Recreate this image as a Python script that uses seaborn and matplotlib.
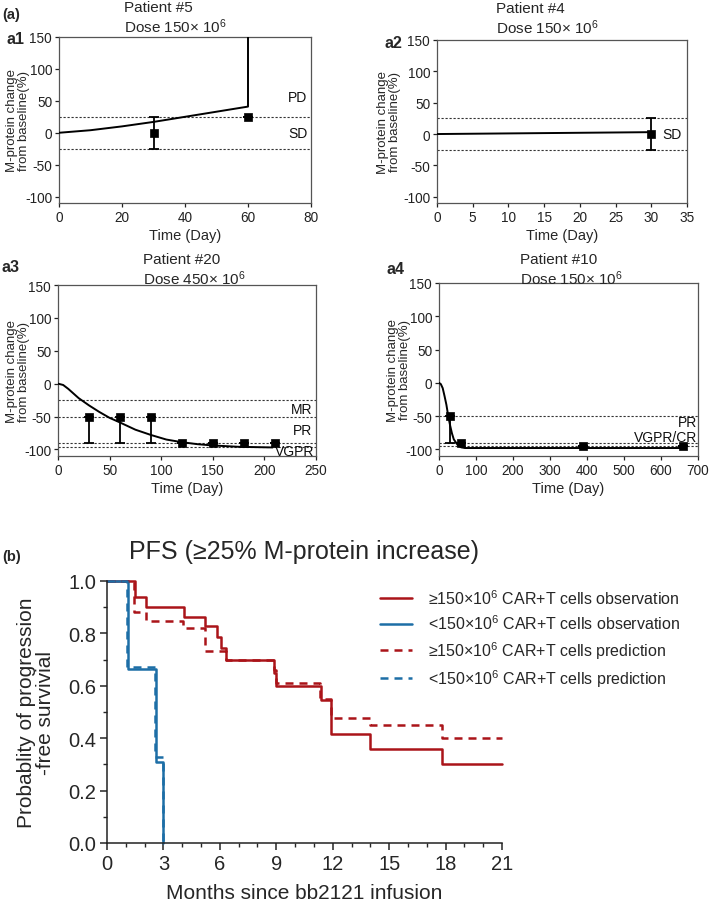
import numpy as np
import pandas as pd
import matplotlib
matplotlib.use("Agg")
import matplotlib.pyplot as plt
import seaborn as sns
from matplotlib.ticker import MultipleLocator, FormatStrFormatter

# ---------------- data ----------------
# a1: Patient #5, dose 150x10^6
a1_curve_t = [0, 10, 20, 30, 40, 50, 60, 60]
a1_curve_y = [0, 4, 10, 17, 25, 33, 41, 200]
a1_obs_t = [30, 60]
a1_obs_y = [0, 25]
a1_err_lo = [25, 0]
a1_err_hi = [25, 0]
a1_refs = [25, -25]

# a2: Patient #4, dose 150x10^6
a2_curve_t = [0, 10, 20, 30]
a2_curve_y = [0, 1, 2, 3]
a2_obs_t = [30]
a2_obs_y = [0]
a2_err_lo = [25]
a2_err_hi = [25]
a2_refs = [25, -25]

# a3: Patient #20, dose 450x10^6
a3_curve_t = [0, 5, 10, 20, 30, 40, 50, 60, 75, 90, 105, 120, 135, 150, 175, 208]
a3_curve_y = [0, -2, -8, -22, -33, -43, -52, -59, -70, -78, -85, -89, -92, -94, -96, -97]
a3_obs_t = [30, 60, 90, 120, 150, 180, 210]
a3_obs_y = [-50, -50, -50, -90, -90, -90, -90]
a3_err_lo = [40, 40, 40, 0, 0, 0, 0]
a3_err_hi = [0, 0, 0, 0, 0, 0, 0]
a3_refs = [-25, -50, -90, -96]

# a4: Patient #10, dose 150x10^6
a4_curve_t = [0, 5, 10, 15, 20, 25, 30, 35, 40, 50, 60, 70, 80, 660]
a4_curve_y = [0, -2, -8, -20, -33, -50, -64, -76, -85, -93, -97, -98, -98, -98]
a4_obs_t = [30, 60, 390, 660]
a4_obs_y = [-50, -90, -95, -95]
a4_err_lo = [40, 0, 0, 0]
a4_err_hi = [0, 0, 0, 0]
a4_refs = [-50, -90, -95]

# b: PFS Kaplan-Meier
red_obs_t = [0, 1.48, 2.07, 4.07, 5.2, 5.86, 6.05, 6.3, 8.9, 9.0, 11.36, 11.93, 13.98, 17.82, 21]
red_obs_s = [1.0, 0.938, 0.90, 0.861, 0.827, 0.786, 0.745, 0.70, 0.65, 0.60, 0.545, 0.417, 0.36, 0.30, 0.30]
blue_obs_t = [0, 1.09, 2.59, 3.0]
blue_obs_s = [1.0, 0.663, 0.309, 0.0]
red_pred_t = [0, 1.45, 2.07, 4.04, 5.2, 6.3, 8.9, 9.0, 11.3, 11.93, 13.98, 17.82, 21]
red_pred_s = [1.0, 0.882, 0.847, 0.82, 0.731, 0.70, 0.66, 0.611, 0.55, 0.478, 0.449, 0.40, 0.40]
blue_pred_t = [0, 1.07, 2.57, 3.0]
blue_pred_s = [1.0, 0.672, 0.33, 0.0]

legend_labels = [
    "\u2265150\u00d710$^{\\mathrm{6}}$ CAR+T cells observation",
    "<150\u00d710$^{\\mathrm{6}}$ CAR+T cells observation",
    "\u2265150\u00d710$^{\\mathrm{6}}$ CAR+T cells prediction",
    "<150\u00d710$^{\\mathrm{6}}$ CAR+T cells prediction",
]

# ---------------- style ----------------
sns.set_theme(style="ticks")
plt.rcParams['font.family'] = ['Liberation Sans', 'DejaVu Sans']
plt.rcParams['mathtext.fontset'] = 'custom'
plt.rcParams['mathtext.rm'] = 'Liberation Sans'
plt.rcParams['mathtext.it'] = 'Liberation Sans:italic'
plt.rcParams['mathtext.bf'] = 'Liberation Sans:bold'
plt.rcParams['axes.unicode_minus'] = False

RED = '#aa1419'
BLUE = '#1d6ea6'
W, H = 709, 904

fig = plt.figure(figsize=(W / 100, H / 100), dpi=100)


def px_axes(l, t, r, b):
    return fig.add_axes([l / W, 1 - b / H, (r - l) / W, (b - t) / H])


def top_panel(ax, ct, cy, ot, oy, elo, ehi, refs, xmax, xstep, labels, ylab_x):
    for r in refs:
        ax.axhline(r, color='#333333', lw=0.8, ls=(0, (2, 1.6)), zorder=1)
    sns.lineplot(x=ct, y=cy, ax=ax, color='black', lw=1.4, estimator=None,
                 sort=False, zorder=3)
    ax.errorbar(ot, oy, yerr=[elo, ehi], fmt='none', ecolor='black',
                elinewidth=1.3, capsize=3.5, capthick=1.3, zorder=4)
    sns.scatterplot(x=ot, y=oy, ax=ax, marker='s', s=38, color='black',
                    edgecolor='black', zorder=5)
    ax.set_xlim(0, xmax)
    ax.set_ylim(-110, 150)
    ax.xaxis.set_major_locator(MultipleLocator(xstep))
    ax.set_yticks([-100, -50, 0, 50, 100, 150])
    ax.tick_params(labelsize=9.8, length=3, width=0.9, pad=2, colors='#222222')
    for s in ax.spines.values():
        s.set_linewidth(0.9)
        s.set_color('#555555')
        s.set_visible(True)
    ax.set_xlabel('Time (Day)', fontsize=10.5, labelpad=3)
    ax.set_ylabel('M-protein change\nfrom baseline(%)', fontsize=9.5,
                  linespacing=0.95)
    ax.yaxis.set_label_coords(ylab_x, 0.5)
    for txt, xf, yv in labels:
        ax.text(xf, yv, txt, transform=ax.get_yaxis_transform(), ha='right',
                va='center', fontsize=10, color='#111111')


ax1 = px_axes(59, 38, 311, 204)
top_panel(ax1, a1_curve_t, a1_curve_y, a1_obs_t, a1_obs_y, a1_err_lo, a1_err_hi,
          a1_refs, 80, 20, [('PD', 0.985, 56), ('SD', 0.985, 0)], (30 - 59) / 252)
ax2 = px_axes(437, 41, 687, 204)
top_panel(ax2, a2_curve_t, a2_curve_y, a2_obs_t, a2_obs_y, a2_err_lo, a2_err_hi,
          a2_refs, 35, 5, [('SD', 0.98, 0)], (401 - 437) / 250)
ax3 = px_axes(58, 286, 316, 457)
top_panel(ax3, a3_curve_t, a3_curve_y, a3_obs_t, a3_obs_y, a3_err_lo, a3_err_hi,
          a3_refs, 250, 50, [('MR', 0.985, -38), ('PR', 0.985, -71), ('VGPR', 0.995, -103)],
          (30 - 58) / 258)
ax4 = px_axes(439, 284, 698, 457)
top_panel(ax4, a4_curve_t, a4_curve_y, a4_obs_t, a4_obs_y, a4_err_lo, a4_err_hi,
          a4_refs, 700, 100, [('PR', 0.995, -59), ('VGPR/CR', 0.995, -81)],
          (411 - 439) / 259)

# titles and panel labels
def ftxt(x, y, s, **kw):
    fig.text(x / W, 1 - y / H, s, **kw)

ftxt(124, 1, 'Patient #5\nDose 150\u00d7 10$^{\\mathrm{6}}$', ha='left', va='top', fontsize=11, linespacing=1.15)
ftxt(496, 2, 'Patient #4\nDose 150\u00d7 10$^{\\mathrm{6}}$', ha='left', va='top', fontsize=11, linespacing=1.15)
ftxt(143, 253, 'Patient #20\nDose 450\u00d7 10$^{\\mathrm{6}}$', ha='left', va='top', fontsize=11, linespacing=1.15)
ftxt(520, 253, 'Patient #10\nDose 150\u00d7 10$^{\\mathrm{6}}$', ha='left', va='top', fontsize=11, linespacing=1.15)
ftxt(2, 15, '(a)', ha='left', va='center', fontsize=10.5, fontweight='bold')
ftxt(6, 39, 'a1', ha='left', va='center', fontsize=11.5, fontweight='bold')
ftxt(384, 43, 'a2', ha='left', va='center', fontsize=11.5, fontweight='bold')
ftxt(2, 268, 'a3', ha='left', va='center', fontsize=11.5, fontweight='bold')
ftxt(386, 270, 'a4', ha='left', va='center', fontsize=11.5, fontweight='bold')
ftxt(2, 557, '(b)', ha='left', va='center', fontsize=10.5, fontweight='bold')

# ---------------- panel b ----------------
axb = px_axes(107, 582, 502, 844)
dash = (0, (3.2, 2.4))
series = [
    (red_obs_t, red_obs_s, RED, '-', legend_labels[0]),
    (blue_obs_t, blue_obs_s, BLUE, '-', legend_labels[1]),
    (red_pred_t, red_pred_s, RED, dash, legend_labels[2]),
    (blue_pred_t, blue_pred_s, BLUE, dash, legend_labels[3]),
]
for t, s, c, ls, lab in series:
    sns.lineplot(x=t, y=s, ax=axb, color=c, lw=1.8, linestyle=ls,
                 drawstyle='steps-post', estimator=None, sort=False,
                 label=lab, clip_on=False)

axb.set_xlim(0, 21)
axb.set_ylim(0, 1.0)
axb.xaxis.set_major_locator(MultipleLocator(3))
axb.xaxis.set_minor_locator(MultipleLocator(1))
axb.yaxis.set_major_locator(MultipleLocator(0.2))
axb.yaxis.set_minor_locator(MultipleLocator(0.1))
axb.yaxis.set_major_formatter(FormatStrFormatter('%.1f'))
axb.tick_params(which='major', labelsize=14.5, length=5, width=1.1, pad=3)
axb.tick_params(which='minor', length=3, width=1.0)
sns.despine(ax=axb)
for s in ('left', 'bottom'):
    axb.spines[s].set_linewidth(1.1)
    axb.spines[s].set_color('#222222')
axb.set_xlabel('Months since bb2121 infusion', fontsize=15, labelpad=7)
axb.set_ylabel('Probablity of progression\n-free survivial', fontsize=15,
               labelpad=9, linespacing=1.05)
ftxt(304, 552, 'PFS (\u226525% M-protein increase)', ha='center', va='center', fontsize=18)

axb.legend(loc='upper left', bbox_to_anchor=(380 / W, 1 - 589 / H),
           bbox_transform=fig.transFigure, frameon=False, fontsize=11.5,
           handlelength=2.0, handletextpad=1.0, labelspacing=0.42,
           borderpad=0, borderaxespad=0)

fig.savefig('out.png', dpi=100)
